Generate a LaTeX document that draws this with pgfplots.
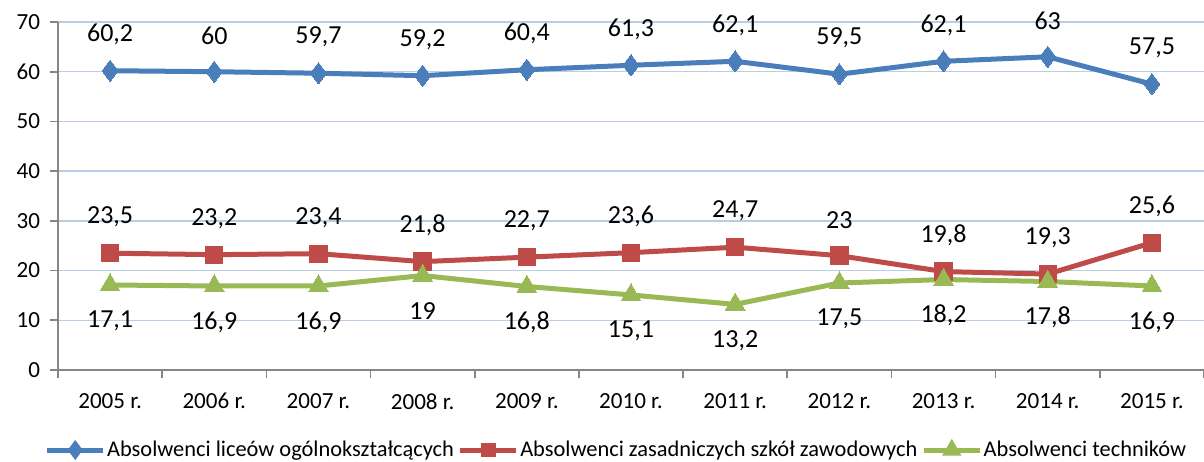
\documentclass[border=0pt]{standalone}
\usepackage{fontspec}
\setmainfont{Carlito}
\usepackage{pgfplots}
\pgfplotsset{compat=1.18}
\definecolor{sblue}{HTML}{4A7EBB}
\definecolor{sred}{HTML}{BE4B48}
\definecolor{sgreen}{HTML}{98B954}
\definecolor{gridblue}{HTML}{B9CDE5}
\definecolor{axgray}{HTML}{868686}
\begin{document}
\begin{tikzpicture}
\begin{axis}[
  name=ax, at={(0,0)}, anchor=south west,
  scale only axis, width=859.5pt, height=261pt,
  xmin=-0.5, xmax=10.5, ymin=0, ymax=70,
  axis lines=left, axis line style={-, draw=axgray, line width=1.2pt},
  xtick={0,...,10},
  xticklabels={2005 r.,2006 r.,2007 r.,2008 r.,2009 r.,2010 r.,2011 r.,2012 r.,2013 r.,2014 r.,2015 r.},
  minor xtick={-0.5,0.5,...,10.5},
  major x tick style={draw=none},
  minor tick length=6pt,
  ytick={0,10,...,70},
  ymajorgrids, grid style={gridblue, line width=1pt},
  tick align=outside, major tick length=6pt,
  tick style={axgray, line width=1.2pt},
  ticklabel style={font=\fontsize{17.3}{20}\selectfont, text=black},
  xticklabel style={yshift=-8pt},
  yticklabel style={xshift=-4pt},
  /pgf/number format/assume math mode=true,
  /pgf/number format/use comma,
  nodes near coords,
  every node near coord/.append style={font=\fontsize{19.5}{22}\selectfont, text=black, anchor=center,
    /pgf/number format/fixed, /pgf/number format/precision=1},
  legend columns=-1,
  legend style={draw=none, at={(0.487,-60pt)}, anchor=center, font=\fontsize{16.8}{19}\selectfont,
    inner xsep=0pt, nodes={inner xsep=1pt},
    /tikz/every odd column/.append style={column sep=0pt},
    /tikz/every even column/.append style={column sep=2pt}},
  legend image code/.code={\draw[mark repeat=2,mark phase=2,#1,mark options={scale=0.55}]
    plot coordinates {(0pt,0pt)(21pt,0pt)(42pt,0pt)};},
]
\addplot[sblue, line width=3.75pt, mark=diamond*, mark size=8pt, mark options={line width=0pt},
  every node near coord/.append style={yshift=27pt}]
  coordinates {(0,60.2)(1,60)(2,59.7)(3,59.2)(4,60.4)(5,61.3)(6,62.1)(7,59.5)(8,62.1)(9,63)(10,57.5)};
\addlegendentry{Absolwenci liceów ogólnokształcących}
\addplot[sred, line width=3.75pt, mark=square*, mark size=6.5pt, mark options={line width=0pt},
  every node near coord/.append style={yshift=27pt}]
  coordinates {(0,23.5)(1,23.2)(2,23.4)(3,21.8)(4,22.7)(5,23.6)(6,24.7)(7,23)(8,19.8)(9,19.3)(10,25.6)};
\addlegendentry{Absolwenci zasadniczych szkół zawodowych}
\addplot[sgreen, line width=3.75pt, mark=triangle*, mark size=8.5pt, mark options={line width=0pt},
  every node near coord/.append style={yshift=-27pt}]
  coordinates {(0,17.1)(1,16.9)(2,16.9)(3,19)(4,16.8)(5,15.1)(6,13.2)(7,17.5)(8,18.2)(9,17.8)(10,16.9)};
\addlegendentry{Absolwenci techników}
\end{axis}
\pgfresetboundingbox
\path (-43.5pt,-68.25pt) rectangle (859.5pt,277.5pt);
\end{tikzpicture}
\end{document}
